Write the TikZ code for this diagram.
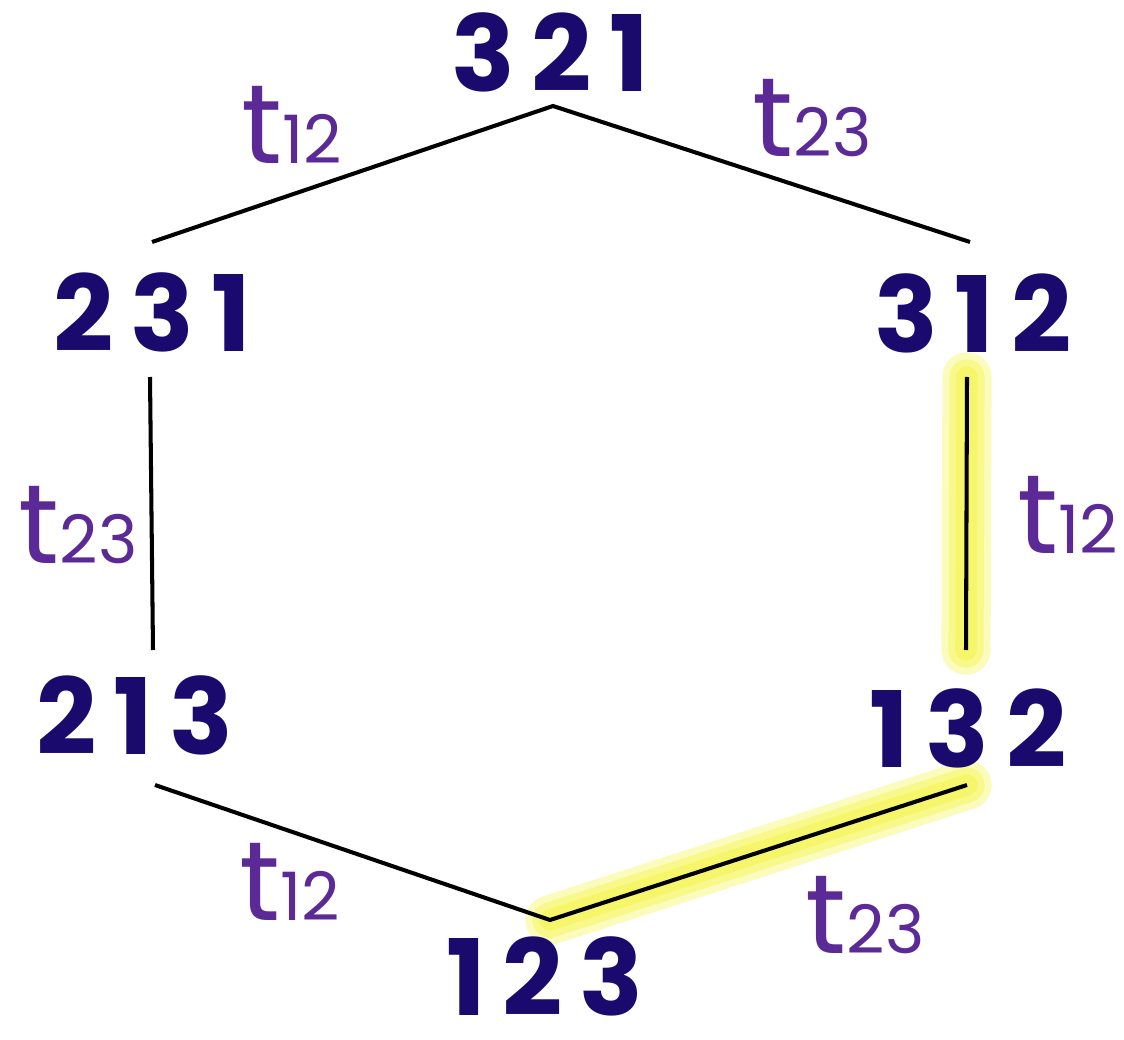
\documentclass[tikz,border=0pt]{standalone}
\usepackage{fontspec}
\setmainfont{Poppins}
\begin{document}
\begin{tikzpicture}[x=0.01cm,y=-0.01cm]
\definecolor{numcol}{HTML}{1B0A6E}
\definecolor{labcol}{HTML}{5B2A96}
\definecolor{glow}{HTML}{F2F21E}
\tikzset{
  perm/.style={text=numcol,font=\fontsize{30}{32}\selectfont\bfseries\addfontfeatures{LetterSpace=16},inner sep=0pt},
  lab/.style={text=labcol,font=\fontsize{32}{34}\selectfont,inner sep=0pt},
  edgeline/.style={line width=1.15pt,black},
  hl/.style={glow,opacity=0.3,line cap=round}
}
\newcommand{\tlab}[1]{t{\fontsize{19}{19}\selectfont #1}}
\fill[white] (0,0) rectangle (1124,1040);
\useasboundingbox (0,0) rectangle (1124,1040);
% edge endpoints
\coordinate (a1) at (152,242);
\coordinate (top) at (553,106);
\coordinate (b1) at (970,242);
\coordinate (c1) at (150,377);
\coordinate (c2) at (153,650);
\coordinate (d1) at (967,377);
\coordinate (d2) at (966,650);
\coordinate (e1) at (155,785);
\coordinate (bot) at (550,920);
\coordinate (f1) at (967,785);
% highlight glow
\foreach \w in {14pt,10pt,6pt}{
  \draw[hl,line width=\w] (d1) -- (d2);
  \draw[hl,line width=\w] (bot) -- (f1);
}
% permutations
\node[perm] (p321) at (550,52) {321};
\node[perm] (p231) at (152,312) {231};
\node[perm] (p312) at (973,313) {312};
\node[perm] (p213) at (135,715) {213};
\node[perm] (p132) at (968,728) {132};
\node[perm] (p123) at (545,976) {123};
% edges
\draw[edgeline] (a1) -- (top) -- (b1);
\draw[edgeline] (c1) -- (c2);
\draw[edgeline] (d1) -- (d2);
\draw[edgeline] (e1) -- (bot) -- (f1);
% labels
\node[lab] (l1) at (292,125) {\tlab{12}};
\node[lab] (l2) at (812,118) {\tlab{23}};
\node[lab] (l3) at (78,525) {\tlab{23}};
\node[lab] (l4) at (1068,515) {\tlab{12}};
\node[lab] (l5) at (290,882) {\tlab{12}};
\node[lab] (l6) at (865,915) {\tlab{23}};
\end{tikzpicture}
\end{document}
